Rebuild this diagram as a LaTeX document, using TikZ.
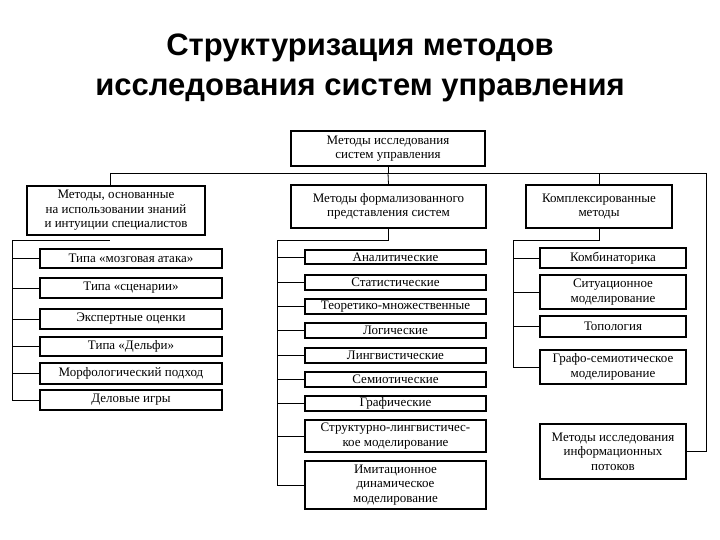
\documentclass[tikz,border=0pt]{standalone}
\usepackage{fontspec}
\setmainfont{Liberation Serif}
\newfontfamily\titlefont{Liberation Sans}
\begin{document}
\begin{tikzpicture}[x=1pt,y=-1pt,
  bx/.style={draw,line width=1.3pt,inner sep=0pt,align=center,font=\fontsize{13}{14.5}\selectfont},
  ln/.style={draw,line width=0.8pt}]
\useasboundingbox (0,0) rectangle (720,540);
\node[font=\titlefont\bfseries\fontsize{31}{40}\selectfont,align=center] (title) at (360,68) {Структуризация методов\\исследования систем управления};
\newcommand{\bb}[6]{\node[bx,minimum width={#3-#2},minimum height={#5-#4}] (#1) at ({(#2+#3)/2},{(#4+#5)/2}) {#6};}
\bb{top}{291}{485}{131}{166}{Методы исследования\\систем управления}
\bb{L}{27}{205}{186}{235}{Методы, основанные\\на использовании знаний\\и интуиции специалистов}
\bb{M}{291}{486}{185}{228}{Методы формализованного\\представления систем}
\bb{R}{526}{672}{185}{228}{Комплексированные\\методы}
% left children
\bb{l1}{40}{222}{249}{268}{Типа «мозговая атака»}
\bb{l2}{40}{222}{278}{298}{Типа «сценарии»}
\bb{l3}{40}{222}{309}{329}{Экспертные оценки}
\bb{l4}{40}{222}{337}{356}{Типа «Дельфи»}
\bb{l5}{40}{222}{363}{384}{Морфологический подход}
\bb{l6}{40}{222}{390}{410}{Деловые игры}
% middle children
\bb{m1}{305}{486}{250}{264}{Аналитические}
\bb{m2}{305}{486}{275}{290}{Статистические}
\bb{m3}{305}{486}{299}{314}{Теоретико-множественные}
\bb{m4}{305}{486}{323}{338}{Логические}
\bb{m5}{305}{486}{348}{363}{Лингвистические}
\bb{m6}{305}{486}{372}{387}{Семиотические}
\bb{m7}{305}{486}{396}{411}{Графические}
\bb{m8}{305}{486}{420}{452}{Структурно-лингвистичес-\\кое моделирование}
\bb{m9}{305}{486}{461}{509}{Имитационное\\динамическое\\моделирование}
% right children
\bb{r1}{540}{686}{248}{268}{Комбинаторика}
\bb{r2}{540}{686}{275}{309}{Ситуационное\\моделирование}
\bb{r3}{540}{686}{316}{337}{Топология}
\bb{r4}{540}{686}{350}{384}{Графо-семиотическое\\моделирование}
\bb{r5}{540}{686}{424}{479}{Методы исследования\\информационных\\потоков}
\path[ln] (top.south) -- (388,173) coordinate (hub);
\coordinate (hl) at (110,173); \coordinate (hr) at (706,173);
\path[ln] (hl) -- (hr);
\path[ln] (hl) -- (L.north -| hl);
\path[ln] (hub) -- (M.north);
\path[ln] (R.north) -- (R.north |- hub);
\path[ln] (hr) |- (r5.east);
% left bus
\coordinate (lb) at (12,240);
\path[ln] (lb) -- (110,240);
\path[ln] (lb) |- (l6.west);
\foreach \n in {l1,l2,l3,l4,l5} \path[ln] (\n.west) -- (\n.west -| lb);
% middle bus
\coordinate (mb) at (277,240);
\path[ln] (M.south) |- (mb);
\path[ln] (mb) |- (m9.west);
\foreach \n in {m1,m2,m3,m4,m5,m6,m7,m8} \path[ln] (\n.west) -- (\n.west -| mb);
% right bus
\coordinate (rb) at (513,240);
\path[ln] (R.south) |- (rb);
\path[ln] (rb) |- (r4.west);
\foreach \n in {r1,r2,r3} \path[ln] (\n.west) -- (\n.west -| rb);
\end{tikzpicture}
\end{document}
